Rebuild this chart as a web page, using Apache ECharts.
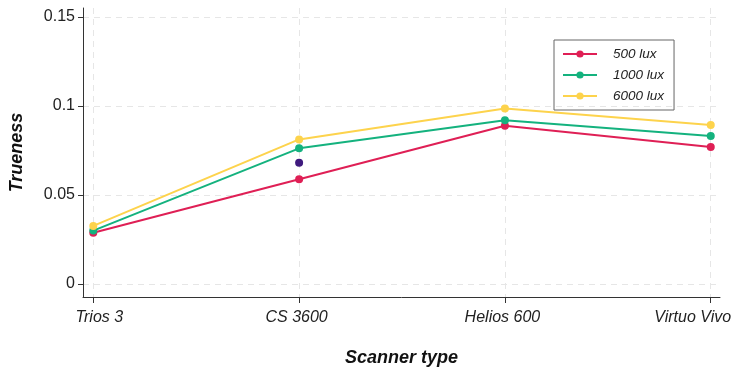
<!DOCTYPE html>
<html>
<head>
<meta charset="utf-8">
<script src="https://cdn.jsdelivr.net/npm/echarts@6/dist/echarts.min.js"></script>
<style>
  html, body { margin: 0; padding: 0; background: #fff; }
  #main { width: 737px; height: 377px; }
</style>
</head>
<body>
<div id="main"></div>
<script>
// scanners on the x axis
var categories = ['Trios 3', 'CS 3600', 'Helios 600', 'Virtuo Vivo'];
var yTicks = [0, 0.05, 0.1, 0.15];
var xTicks = [0, 1, 2, 3];
// trueness per illuminance
var lux500 = [0.0288, 0.0588, 0.0889, 0.0770];
var lux1000 = [0.0300, 0.0762, 0.0920, 0.0831];
var lux6000 = [0.0326, 0.0812, 0.0985, 0.0893];
// lone purple point at CS 3600
var extraPoint = [[1, 0.0681]];

var font = '"Liberation Sans", Arial, Helvetica, sans-serif';

function toPairs(arr) {
    return arr.map(function (v, i) { return [i, v]; });
}

function lineSeries(name, data, color) {
    return {
        name: name,
        type: 'line',
        data: toPairs(data),
        symbol: 'circle',
        symbolSize: 8,
        lineStyle: { color: color, width: 2 },
        itemStyle: { color: color },
        z: 3
    };
}

// end labels are nudged inwards so they stay inside the picture
var labelStyle = { fontFamily: font, fontStyle: 'italic', fontSize: 16, color: '#222' };
var richLabels = {
    first: Object.assign({ padding: [0, 0, 0, 12] }, labelStyle),
    mid: Object.assign({ padding: [0, 5, 0, 0] }, labelStyle),
    last: Object.assign({ padding: [0, 36, 0, 0] }, labelStyle)
};

var chart = echarts.init(document.getElementById('main'));
chart.setOption({
    animation: false,
    backgroundColor: '#fff',
    grid: { left: 83, right: 17, top: 8, bottom: 80, outerBoundsMode: 'none', containLabel: false },
    legend: {
        orient: 'vertical',
        left: 554,
        top: 40,
        width: 120,
        padding: [7, 10, 7, 8],
        itemWidth: 34,
        itemHeight: 9,
        itemGap: 7,
        borderColor: '#666',
        borderWidth: 1,
        borderRadius: 0,
        data: ['500 lux', '1000 lux', '6000 lux'],
        textStyle: {
            fontFamily: font,
            fontStyle: 'italic',
            fontSize: 13.5,
            lineHeight: 14,
            color: '#222',
            padding: [0, 0, 0, 11]
        }
    },
    xAxis: {
        type: 'value',
        min: -0.05,
        max: 3.045,
        name: 'Scanner type',
        nameLocation: 'middle',
        nameGap: 52,
        nameTextStyle: { fontFamily: font, fontSize: 18, fontWeight: 'bold', fontStyle: 'italic', color: '#111' },
        axisLine: { show: true, onZero: false, lineStyle: { color: '#333', width: 1 } },
        axisTick: { show: true, length: 6, customValues: xTicks, lineStyle: { color: '#333' } },
        axisLabel: {
            customValues: xTicks,
            margin: 13,
            fontFamily: font,
            fontStyle: 'italic',
            fontSize: 16,
            color: '#222',
            rich: richLabels,
            formatter: function (v) {
                var i = Math.round(v);
                var key = i === 0 ? 'first' : (i === categories.length - 1 ? 'last' : 'mid');
                return '{' + key + '|' + categories[i] + '}';
            }
        },
        splitLine: { show: true, lineStyle: { color: '#e6e6e6', type: [6, 5], width: 1 } }
    },
    yAxis: {
        type: 'value',
        min: -0.0073,
        max: 0.155,
        name: 'Trueness',
        nameLocation: 'middle',
        nameGap: 57,
        nameTextStyle: { fontFamily: font, fontSize: 18, fontWeight: 'bold', fontStyle: 'italic', color: '#111' },
        axisLine: { show: true, onZero: false, lineStyle: { color: '#333', width: 1 } },
        axisTick: { show: true, length: 5, customValues: yTicks, lineStyle: { color: '#333' } },
        axisLabel: {
            customValues: yTicks,
            margin: 8,
            fontFamily: font,
            fontSize: 16,
            color: '#222',
            formatter: function (v) { return String(v); }
        },
        splitLine: { show: true, lineStyle: { color: '#e6e6e6', type: [6, 5], width: 1 } }
    },
    series: [
        lineSeries('500 lux', lux500, '#DF1F55'),
        lineSeries('1000 lux', lux1000, '#14B27E'),
        lineSeries('6000 lux', lux6000, '#FDD34C'),
        {
            name: 'extra',
            type: 'scatter',
            data: extraPoint,
            symbol: 'circle',
            symbolSize: 8,
            itemStyle: { color: '#3F1A7E', opacity: 1 },
            z: 3
        }
    ]
});
</script>
</body>
</html>
